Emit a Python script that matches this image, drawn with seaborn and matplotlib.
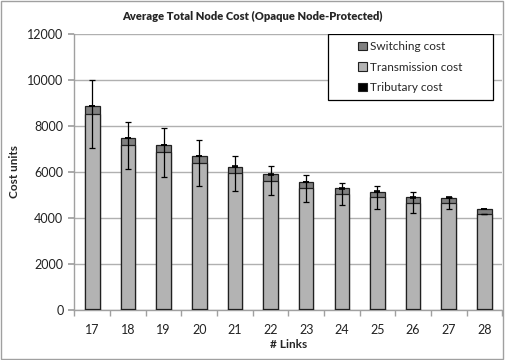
import matplotlib
matplotlib.use("Agg")
import matplotlib.pyplot as plt
import seaborn as sns
import numpy as np
import pandas as pd
from matplotlib.patches import Patch, Rectangle

# Average node cost per topology size
links = ["17", "18", "19", "20", "21", "22", "23", "24", "25", "26", "27", "28"]
tributary = [40, 40, 40, 40, 40, 40, 40, 40, 40, 40, 40, 40]
transmission = [8470, 7120, 6815, 6350, 5905, 5585, 5250, 4990, 4860, 4630, 4610, 4135]
switching = [360, 320, 320, 305, 290, 275, 275, 260, 245, 230, 230, 215]
transmission_err = [1485, 1030, 1065, 985, 770, 615, 595, 480, 490, 440, 250, 0]
switching_err = [15, 15, 15, 15, 15, 15, 15, 15, 15, 15, 15, 15]

df = pd.DataFrame({
    "links": links,
    "tributary": tributary,
    "transmission": transmission,
    "switching": switching,
})
df["trans_top"] = df["tributary"] + df["transmission"]
df["total"] = df["trans_top"] + df["switching"]

sns.set_theme(style="white")
plt.rcParams["font.family"] = ["Lato", "DejaVu Sans"]

fig = plt.figure(figsize=(5.05, 3.6), dpi=100)
ax = fig.add_axes([0.1475, 0.139, 0.847, 0.7665])

c_sw = "#808080"
c_tr = "#b3b3b3"
c_tb = "#000000"
edge = "#202020"
bw = 0.41

# Stacked bars drawn as overlapping cumulative layers
sns.barplot(data=df, x="links", y="total", color=c_sw, width=bw, saturation=1,
            edgecolor=edge, linewidth=0.9, ax=ax, zorder=2)
sns.barplot(data=df, x="links", y="trans_top", color=c_tr, width=bw, saturation=1,
            edgecolor=edge, linewidth=0.9, ax=ax, zorder=3)
sns.barplot(data=df, x="links", y="tributary", color=c_tb, width=bw, saturation=1,
            edgecolor=edge, linewidth=0.9, ax=ax, zorder=4)

xs = np.arange(len(links))
ax.errorbar(xs, df["trans_top"], yerr=transmission_err, fmt="none", ecolor="black",
            elinewidth=0.9, capsize=2, capthick=0.9, zorder=6)
ax.errorbar(xs, df["total"], yerr=switching_err, fmt="none", ecolor="black",
            elinewidth=0.9, capsize=2, capthick=1.2, zorder=6)

ax.set_ylim(0, 12000)
ax.set_xlim(-0.5, len(links) - 0.5)
ax.set_yticks(np.arange(0, 12001, 2000))
ax.yaxis.grid(True, color="#b0b0b0", linewidth=1.0)
ax.set_axisbelow(True)

for side in ["top", "right"]:
    ax.spines[side].set_visible(False)
ax.spines["left"].set_color("#a0a0a0")
ax.spines["bottom"].set_color("#a0a0a0")
ax.spines["left"].set_linewidth(1.0)
ax.spines["bottom"].set_linewidth(1.0)

ax.tick_params(axis="y", which="major", left=True, length=4, color="#a0a0a0",
               labelsize=9, pad=4, labelcolor="#222222")
ax.tick_params(axis="x", which="major", bottom=False, labelsize=9, pad=4,
               labelcolor="#222222")
ax.set_xticks(np.arange(-0.5, len(links), 1.0), minor=True)
ax.tick_params(axis="x", which="minor", bottom=True, length=4, color="#a0a0a0")

ax.set_xlabel("# Links", fontsize=8.5, fontweight="bold", labelpad=2)
ax.set_ylabel("Cost units", fontsize=8.5, fontweight="bold", labelpad=5)
fig.text(0.5, 0.955, "Average Total Node Cost (Opaque Node-Protected)",
         ha="center", va="center", fontsize=8, fontweight="heavy")

# Legend: framed box with the entries centred inside it
box_l, box_r = (328 - 74.5) / 427.8, (493 - 74.5) / 427.8
box_b = (310 - 100) / 276.0
ax.add_patch(Rectangle((box_l, box_b), box_r - box_l, 1.0 - box_b, transform=ax.transAxes,
                       facecolor="white", edgecolor="black", linewidth=0.9, zorder=7))
handles = [
    Patch(facecolor=c_sw, edgecolor=edge, linewidth=0.8, label="Switching cost"),
    Patch(facecolor=c_tr, edgecolor=edge, linewidth=0.8, label="Transmission cost"),
    Patch(facecolor=c_tb, edgecolor=edge, linewidth=0.8, label="Tributary cost"),
]
leg = ax.legend(handles=handles, loc="center",
                bbox_to_anchor=((box_l + box_r) / 2, (box_b + 1.0) / 2),
                frameon=False, fontsize=8.5,
                handlelength=0.7, handleheight=0.7, handletextpad=0.3,
                borderpad=0, labelspacing=0.8, borderaxespad=0)
leg.set_zorder(8)

# outer chart border
fig.patches.append(Rectangle((0.002, 0.003), 0.994, 0.994, transform=fig.transFigure,
                             fill=False, edgecolor="#a0a0a0", linewidth=1.0))

fig.savefig("out.png", dpi=100)
